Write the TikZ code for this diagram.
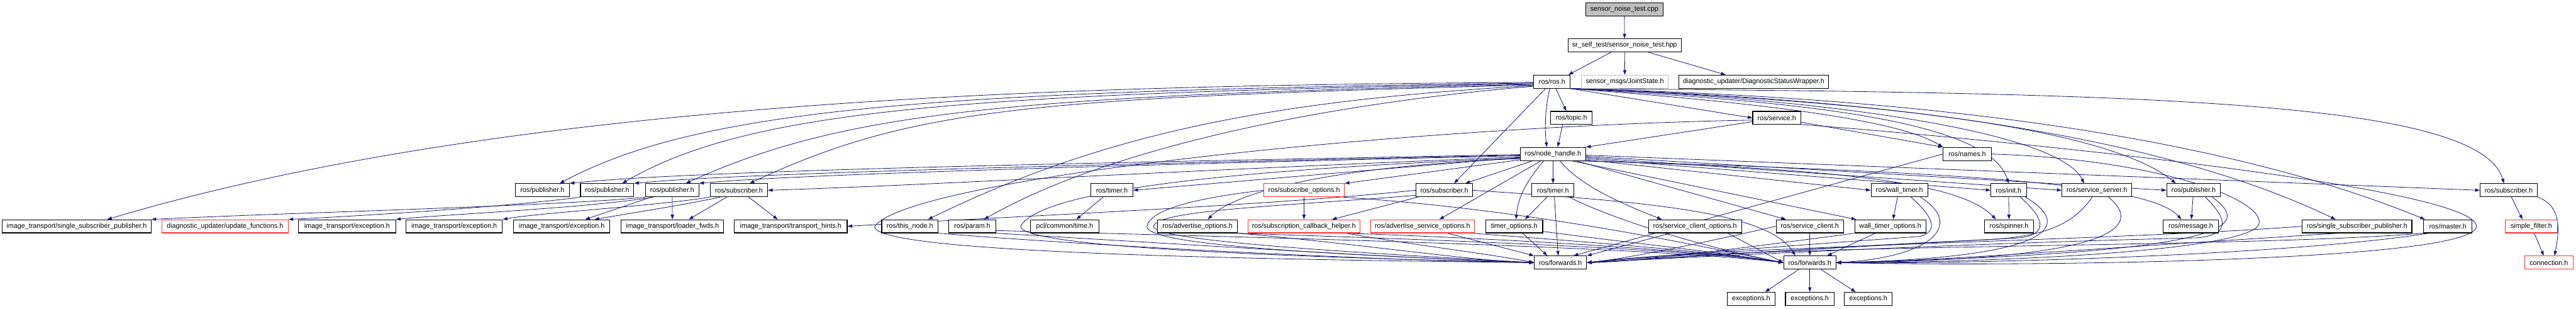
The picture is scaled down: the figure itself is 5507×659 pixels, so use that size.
\documentclass[tikz,border=0pt]{standalone}
\usepackage{fontspec}
\setmainfont{Liberation Sans}
\usetikzlibrary{arrows.meta}
\pgfdeclarelayer{bg}
\pgfsetlayers{bg,main}
\definecolor{edgec}{HTML}{191970}
\definecolor{grayb}{HTML}{BFBFBF}
\definecolor{redb}{HTML}{FF3030}
\begin{document}
\begin{tikzpicture}[x=1pt,y=-1pt,
  nb/.style={rectangle,draw=black,line width=1.5pt,fill=white,minimum height=28pt,inner sep=0pt,font=\fontsize{14.5}{16}\selectfont},
  nred/.style={nb,draw=redb},
  ngray/.style={nb,draw=grayb},
  nroot/.style={nb,fill=grayb},
  e/.style={draw=edgec,line width=1.1pt,-{Triangle[length=10pt,width=7pt]}}]
\useasboundingbox (0,0) rectangle (5507,659);
% row 0-4
\node[nroot,minimum width=165pt] (root) at (3472.5,20) {sensor\_noise\_test.cpp};
\node[nb,minimum width=242pt] (hpp) at (3473,97) {sr\_self\_test/sensor\_noise\_test.hpp};
\node[nb,minimum width=78pt] (rosh) at (3318,174.5) {ros/ros.h};
\node[ngray,minimum width=185pt] (joint) at (3473.5,174.5) {sensor\_msgs/JointState.h};
\node[nb,minimum width=320pt] (dsw) at (3749,174.5) {diagnostic\_updater/DiagnosticStatusWrapper.h};
\node[nb,minimum width=89pt] (topic) at (3359.5,252) {ros/topic.h};
\node[nb,minimum width=103pt] (service) at (3798.5,252) {ros/service.h};
\node[nb,minimum width=140pt] (nh) at (3320,329) {ros/node\_handle.h};
\node[nb,minimum width=103pt] (names) at (4205.5,329) {ros/names.h};
% row 5
\node[nb,minimum width=115pt] (P1) at (1159.5,406.5) {ros/publisher.h};
\node[nb,minimum width=114pt] (P2) at (1298,406.5) {ros/publisher.h};
\node[nb,minimum width=114pt] (P3) at (1437,406.5) {ros/publisher.h};
\node[nb,minimum width=123pt] (S1) at (1579.5,406.5) {ros/subscriber.h};
\node[nb,minimum width=90pt] (T1) at (2377,406.5) {ros/timer.h};
\node[nred,minimum width=172pt] (subopts) at (2788,406.5) {ros/subscribe\_options.h};
\node[nb,minimum width=121pt] (S2) at (3087.5,406.5) {ros/subscriber.h};
\node[nb,minimum width=90pt] (T2) at (3320,406.5) {ros/timer.h};
\node[nb,minimum width=121pt] (WT) at (4060.5,406.5) {ros/wall\_timer.h};
\node[nb,minimum width=76pt] (init) at (4294,406.5) {ros/init.h};
\node[nb,minimum width=149pt] (ss) at (4482.5,406.5) {ros/service\_server.h};
\node[nb,minimum width=115pt] (P4) at (4689.5,406.5) {ros/publisher.h};
\node[nb,minimum width=122pt] (S3) at (5363,406.5) {ros/subscriber.h};
% row 6
\node[nb,minimum width=318pt] (L0) at (164,483.5) {image\_transport/single\_subscriber\_publisher.h};
\node[nred,minimum width=270pt] (upd) at (481,483.5) {diagnostic\_updater/update\_functions.h};
\node[nb,minimum width=208pt] (E1) at (742,483.5) {image\_transport/exception.h};
\node[nb,minimum width=206pt] (E2) at (971,483.5) {image\_transport/exception.h};
\node[nb,minimum width=206pt] (E3) at (1201,483.5) {image\_transport/exception.h};
\node[nb,minimum width=219pt] (lf) at (1437.5,483.5) {image\_transport/loader\_fwds.h};
\node[nb,minimum width=241pt] (th) at (1690.5,483.5) {image\_transport/transport\_hints.h};
\node[nb,minimum width=120pt] (thisnode) at (1945,483.5) {ros/this\_node.h};
\node[nb,minimum width=101pt] (param) at (2078.5,483.5) {ros/param.h};
\node[nb,minimum width=146pt] (pcl) at (2276,483.5) {pcl/common/time.h};
\node[nb,minimum width=170pt] (advopt) at (2560,483.5) {ros/advertise\_options.h};
\node[nred,minimum width=239pt] (sch) at (2787.5,483.5) {ros/subscription\_callback\_helper.h};
\node[nred,minimum width=222pt] (asvo) at (3041,483.5) {ros/advertise\_service\_options.h};
\node[nb,minimum width=122pt] (tmo) at (3237,483.5) {timer\_options.h};
\node[nb,minimum width=199pt] (sco) at (3623.5,483.5) {ros/service\_client\_options.h};
\node[nb,minimum width=144pt] (sc) at (3869,483.5) {ros/service\_client.h};
\node[nb,minimum width=152pt] (wto) at (4041,483.5) {wall\_timer\_options.h};
\node[nb,minimum width=104pt] (spin) at (4295,483.5) {ros/spinner.h};
\node[nb,minimum width=119pt] (msg) at (4683.5,483.5) {ros/message.h};
\node[nb,minimum width=234pt] (rssp) at (5039,483.5) {ros/single\_subscriber\_publisher.h};
\node[nb,minimum width=104pt] (master) at (5233,483.5) {ros/master.h};
\node[nred,minimum width=111pt] (sf) at (5411.5,483.5) {simple\_filter.h};
% row 7-8
\node[nb,minimum width=112pt] (F1) at (3336,561) {ros/forwards.h};
\node[nb,minimum width=112pt] (F2) at (3869,561) {ros/forwards.h};
\node[nred,minimum width=104pt] (conn) at (5449,561) {connection.h};
\node[nb,minimum width=103pt] (ex1) at (3743.5,638.5) {exceptions.h};
\node[nb,minimum width=104pt] (ex2) at (3869,638.5) {exceptions.h};
\node[nb,minimum width=102pt] (ex3) at (3994,638.5) {exceptions.h};

\begin{pgfonlayer}{bg}
% ---------- edges: top
\draw[e] (root) -- (hpp);
\draw[e] ([xshift=-29pt]hpp.south) -- ([xshift=35pt]rosh.north);
\draw[e] (hpp) -- (joint);
\draw[e] ([xshift=51pt]hpp.south) -- ([xshift=-60pt]dsw.north);
% ros.h
\draw[e] ([xshift=8pt]rosh.south) -- ([xshift=-11pt]topic.north);
\draw[e] ([xshift=-19pt]topic.south) -- ([xshift=10pt]nh.north);
\draw[e] ([xshift=-5pt]rosh.south) .. controls (3303,230) and (3302,280) .. ([xshift=-13pt]nh.north);
\draw[e] (rosh.south east) -- (service.west);
\draw[e] ([xshift=-14pt]rosh.south) -- ([xshift=21pt]S2.north);
\draw[e] (rosh.182) .. controls (2300,182) and (1100,210) .. ([xshift=65pt]L0.north);
\draw[e] (rosh.184) .. controls (2000,195) and (1500,230) .. ([xshift=37pt]P1.north);
\draw[e] (rosh.186) .. controls (2050,200) and (1600,235) .. ([xshift=32pt]P2.north);
\draw[e] (rosh.188) .. controls (2150,205) and (1800,240) .. ([xshift=29pt]P3.north);
\draw[e] (rosh.190) .. controls (2200,210) and (1950,230) .. ([xshift=23pt]S1.north);
\draw[e] (rosh.192) .. controls (2700,215) and (2350,290) .. ([xshift=39pt]thisnode.north);
\draw[e] (rosh.194) .. controls (2900,215) and (2400,300) .. ([xshift=25pt]param.north);
\draw[e] (rosh.south east) .. controls (3700,215) and (4050,250) .. (names.north west);
\draw[e] (rosh.south east) .. controls (3800,215) and (4250,250) .. (init.north);
\draw[e] (rosh.south east) .. controls (3900,210) and (4400,280) .. ([xshift=-27pt]ss.north);
\draw[e] (rosh.south east) .. controls (4000,215) and (4500,270) .. ([xshift=-38pt]P4.north);
\draw[e] (rosh.south east) .. controls (4000,210) and (4600,280) .. ([xshift=-46pt]rssp.north);
\draw[e] (rosh.south east) .. controls (4000,205) and (4700,270) .. ([xshift=-49pt]master.north);
\draw[e] (rosh.south east) .. controls (4600,198) and (5300,215) .. ([xshift=-10pt]S3.north);
% service, names
\draw[e] (service) -- (nh.north east);
\draw[e] (service) -- (names.north west);
\draw[e] (service.185) .. controls (3000,270) and (1950,380) .. (1870,483) .. controls (1862,530) and (2400,552) .. (F1.west);
\draw[e] (service.-15) .. controls (4300,300) and (5290,400) .. (5294,483) .. controls (5295,560) and (4300,570) .. (F2.east);
\draw[e] (names.west) -- ([xshift=28pt]F1.north);
\draw[e] (names.east) .. controls (4600,340) and (4830,420) .. (4830,475) .. controls (4830,540) and (4200,562) .. (F2.east);
% node_handle
\draw[e] (nh.181) .. controls (2500,345) and (1500,362) .. (P1.north east);
\draw[e] (nh.182) .. controls (2500,348) and (1600,368) .. (P2.north east);
\draw[e] (nh.183) .. controls (2500,350) and (1700,372) .. (P3.north east);
\draw[e] (nh.185) .. controls (2400,370) and (2000,395) .. (S1.east);
\draw[e] (nh.186) -- (T1.east);
\draw[e] (nh.190) -- (subopts.north east);
\draw[e] ([xshift=-44pt]nh.south) -- ([xshift=45pt]S2.north);
\draw[e] (nh.188) .. controls (2850,355) and (2640,410) .. ([xshift=22pt]advopt.north);
\draw[e] ([xshift=-26pt]nh.south) -- ([xshift=36pt]asvo.north);
\draw[e] ([xshift=-20pt]nh.south) .. controls (3265,385) and (3245,420) .. ([xshift=4pt]tmo.north);
\draw[e] (nh) -- (T2);
\draw[e] ([xshift=15pt]nh.south) .. controls (3380,400) and (3480,440) .. ([xshift=-71pt]sco.north);
\draw[e] ([xshift=50pt]nh.south) -- ([xshift=-51pt]sc.north);
\draw[e] (nh.-20) -- ([xshift=-73pt]wto.north);
\draw[e] (nh.-15) .. controls (4000,360) and (4200,400) .. ([xshift=-28pt]spin.north);
\draw[e] (nh.-10) -- (WT.west);
\draw[e] (nh.-8) -- (init.west);
\draw[e] (nh.-6) -- (ss.west);
\draw[e] (nh.-4) -- (P4.west);
\draw[e] (nh.-2) -- (S3.west);
\draw[e] (nh.-12) .. controls (4300,370) and (4600,400) .. ([xshift=-20pt]msg.north);
\draw[e] (nh.187) .. controls (2700,360) and (2230,400) .. (2182,483) .. controls (2178,522) and (2600,546) .. (F1.west);
% row 5 left
\draw[e] (P2.south west) .. controls (1100,440) and (800,460) .. (upd.north east);
\draw[e] (P3.south west) .. controls (1200,440) and (600,455) .. (L0.north east);
\draw[e] (P3.200) .. controls (1250,445) and (950,458) .. (E1.north east);
\draw[e] ([xshift=-45pt]P3.south) -- ([xshift=50pt]E3.north);
\draw[e] (P3) -- (lf);
\draw[e] (S1.south west) .. controls (1400,440) and (1150,455) .. (E2.north east);
\draw[e] (S1.200) .. controls (1450,440) and (1350,455) .. ([xshift=70pt]E3.north);
\draw[e] ([xshift=-26pt]S1.south) -- ([xshift=35pt]lf.north);
\draw[e] ([xshift=21pt]S1.south) -- ([xshift=-28pt]th.north);
\draw[e] (S2.west) .. controls (2700,440) and (2200,460) .. (th.east);
\draw[e] ([xshift=-19pt]T1.south) -- ([xshift=25pt]pcl.north);
% row 5 middle
\draw[e] (subopts) -- (sch);
\draw[e] (subopts.-10) .. controls (3300,450) and (3650,530) .. (F2.west);
\draw[e] (subopts.west) .. controls (2600,418) and (2462,440) .. (2452,483) .. controls (2446,522) and (2800,542) .. (F1.west);
\draw[e] (S2.190) .. controls (2750,440) and (2478,448) .. (2466,483) .. controls (2460,515) and (2900,540) .. (F1.west);
\draw[e] ([xshift=-57pt]S2.south) -- ([xshift=60pt]sch.north);
\draw[e] (S2.east) .. controls (3500,430) and (3780,450) .. ([xshift=-31pt]F2.north);
\draw[e] ([xshift=-13pt]T2.south) -- ([xshift=23pt]tmo.north);
\draw[e] ([xshift=3pt]T2.south) -- ([xshift=-5pt]F1.north);
\draw[e] ([xshift=35pt]T2.south) .. controls (3450,470) and (3650,530) .. (F2.west);
% row 5 right
\draw[e] ([xshift=-4pt]WT.south) -- ([xshift=6pt]wto.north);
\draw[e] (init) -- (spin);
\draw[e] (P4) -- (msg);
\draw[e] ([xshift=6pt]S3.south) -- ([xshift=-19pt]sf.north);
\draw[e] (S3.south east) .. controls (5480,440) and (5470,500) .. ([xshift=12pt]conn.north);
\draw[e] (sf) -- ([xshift=-11pt]conn.north);
\draw[e] ([xshift=25pt]WT.south) .. controls (4140,470) and (4140,495) .. (4105,505) .. controls (3900,520) and (3550,545) .. (F1.east);
\draw[e] ([xshift=45pt]WT.south) .. controls (4200,480) and (4130,550) .. (F2.east);
\draw[e] ([xshift=25pt]init.south) .. controls (4375,470) and (4375,500) .. (4320,508) .. controls (4000,525) and (3600,548) .. (F1.east);
\draw[e] ([xshift=36pt]init.south) .. controls (4430,480) and (4400,550) .. (F2.east);
\draw[e] ([xshift=-10pt]ss.south) .. controls (4435,475) and (4380,505) .. (4250,512) .. controls (3950,525) and (3600,550) .. (F1.east);
\draw[e] ([xshift=25pt]ss.south) .. controls (4580,480) and (4540,555) .. (F2.east);
\draw[e] ([xshift=25pt]P4.south) .. controls (4765,470) and (4765,500) .. (4700,508) .. controls (4200,520) and (3700,545) .. (F1.east);
\draw[e] ([xshift=40pt]P4.south) .. controls (4810,480) and (4800,540) .. (F2.east);
% row 6 to forwards
\draw[e] (thisnode.south east) .. controls (2400,530) and (3000,558) .. (F1.west);
\draw[e] (param.south east) .. controls (2500,520) and (3000,552) .. (F1.west);
\draw[e] (param.-10) .. controls (2600,505) and (3500,525) .. (F2.west);
\draw[e] (advopt.south east) .. controls (2900,520) and (3150,558) .. (F1.west);
\draw[e] (advopt.-10) .. controls (3000,510) and (3600,530) .. (F2.west);
\draw[e] ([xshift=90pt]sch.south) .. controls (3000,520) and (3200,545) .. (F1.west);
\draw[e] (sch.-10) .. controls (3100,505) and (3600,530) .. (F2.west);
\draw[e] ([xshift=53pt]asvo.south) -- (F1.north west);
\draw[e] (asvo.-8) .. controls (3300,510) and (3650,535) .. (F2.west);
\draw[e] ([xshift=18pt]tmo.south) -- ([xshift=-28pt]F1.north);
\draw[e] (tmo.-10) .. controls (3450,515) and (3650,535) .. (F2.west);
\draw[e] ([xshift=-53pt]sco.south) -- (F1.north east);
\draw[e] ([xshift=70pt]sco.south) -- (F2.west);
\draw[e] (sc.west) .. controls (3700,505) and (3500,550) .. (F1.east);
\draw[e] (sc) -- (F2);
\draw[e] (wto.south west) .. controls (3800,520) and (3500,560) .. (F1.east);
\draw[e] ([xshift=-32pt]wto.south) -- ([xshift=37pt]F2.north);
\draw[e] (rssp.west) .. controls (4500,515) and (3700,525) .. (F1.east);
\draw[e] (rssp.200) .. controls (4500,530) and (4100,560) .. (F2.east);
\draw[e] (master.south west) .. controls (4800,530) and (3800,520) .. (F1.east);
\draw[e] (master.200) .. controls (4900,545) and (4200,565) .. (F2.east);
% forwards to exceptions
\draw[e] ([xshift=-24pt]F2.south) -- ([xshift=30pt]ex1.north);
\draw[e] (F2) -- (ex2);
\draw[e] ([xshift=24pt]F2.south) -- ([xshift=-27pt]ex3.north);
\end{pgfonlayer}
\end{tikzpicture}
\end{document}
